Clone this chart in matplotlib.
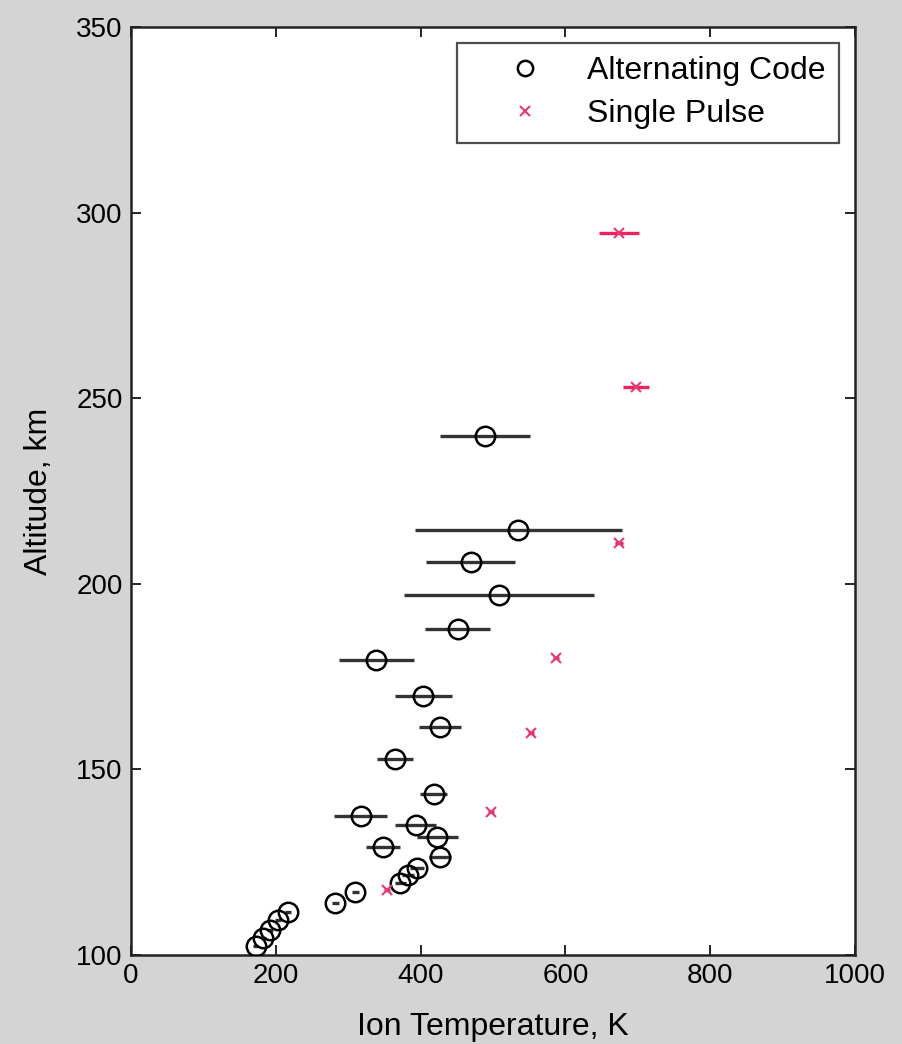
import numpy as np
import matplotlib.pyplot as plt
from matplotlib.lines import Line2D

# alternating code profile
ac_temp = [489, 535, 469, 508, 451, 339, 404, 427, 365, 418, 317, 393, 423,
           348, 427, 395, 383, 372, 310, 282, 217, 203, 192, 183, 172]
ac_alt = [239.8, 214.6, 205.9, 197.1, 187.9, 179.4, 169.9, 161.3, 152.8, 143.4,
          137.5, 134.9, 131.7, 129.0, 126.5, 123.4, 121.6, 119.3, 117.1, 113.9,
          111.6, 109.4, 106.7, 104.6, 102.4]
ac_err = [62, 143, 62, 131, 45, 52, 40, 29, 25, 19, 36, 28, 28, 23, 15, 10,
          8, 8, 5, 5, 4, 4, 4, 4, 4]

# single pulse profile
sp_temp = [674, 698, 674, 587, 552, 497, 354]
sp_alt = [294.4, 253.0, 211.0, 180.0, 159.8, 138.6, 117.5]
sp_err = [28, 18, 5, 4, 4, 4, 4]

plt.rcParams['font.family'] = ['Liberation Sans', 'DejaVu Sans']

fig = plt.figure(figsize=(9.03, 10.44), dpi=100)
fig.patch.set_facecolor('#d4d4d4')
ax = fig.add_axes([131 / 903, 1 - 955 / 1044, (855 - 131) / 903, (955 - 27) / 1044])
ax.set_facecolor('white')

ax.errorbar(ac_temp, ac_alt, xerr=ac_err, fmt='o', mfc='none', mec='black',
            ms=14, mew=1.8, ecolor='0.2', elinewidth=2.4, capsize=0, zorder=3)
ax.errorbar(sp_temp, sp_alt, xerr=sp_err, fmt='x', color='#e63a70',
            ms=7, mew=1.5, ecolor='#f0205e', elinewidth=2.4, capsize=0, zorder=3)

ax.set_xlim(0, 1000)
ax.set_ylim(100, 350)
ax.set_xticks([0, 200, 400, 600, 800, 1000])
ax.set_yticks([100, 150, 200, 250, 300, 350])
ax.tick_params(direction='in', top=True, right=True, length=7, width=1.2,
               labelsize=20, pad=6)
for s in ax.spines.values():
    s.set_linewidth(1.8)
    s.set_color('#222222')

ax.set_xlabel('Ion Temperature, K', fontsize=23, labelpad=16)
ax.set_ylabel('Altitude, km', fontsize=23, labelpad=16)

handles = [Line2D([], [], ls='none', marker='o', mfc='none', mec='black', ms=11, mew=1.8),
           Line2D([], [], ls='none', marker='x', color='#e63a70', ms=7, mew=1.5)]
leg = ax.legend(handles, ['Alternating Code', 'Single Pulse'], loc='upper right',
                fontsize=23, frameon=True, fancybox=False,
                borderaxespad=0.5, handletextpad=0.25, borderpad=0.42,
                handlelength=3.4, labelspacing=0.4)
leg.get_frame().set_edgecolor('#222222')
leg.get_frame().set_linewidth(1.6)

fig.savefig('out.png', dpi=100, facecolor=fig.get_facecolor())
